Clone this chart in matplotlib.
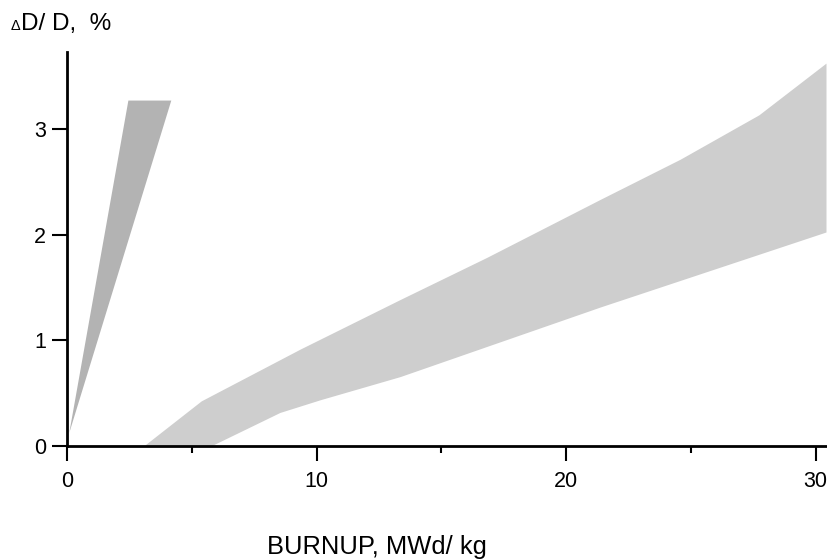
import matplotlib
matplotlib.use("Agg")
import matplotlib.pyplot as plt
from matplotlib.ticker import MultipleLocator

plt.rcParams['font.family'] = ['Liberation Sans', 'DejaVu Sans']

# Dark band (early data): apex and top edge
dark_x = [0.09, 2.46, 4.18]
dark_y = [0.12, 3.27, 3.27]

# Light band: upper boundary
upper_x = [3.13, 5.4, 9.36, 13.37, 16.85, 21.4, 24.6, 27.75, 30.44]
upper_y = [0.0, 0.42, 0.91, 1.38, 1.78, 2.33, 2.71, 3.13, 3.62]
# Light band: lower boundary
lower_x = [5.85, 8.55, 10.16, 13.37, 21.4, 30.44]
lower_y = [0.0, 0.31, 0.43, 0.65, 1.31, 2.02]

x_major = [0, 10, 20, 30]
y_major = [0, 1, 2, 3]

fig = plt.figure(figsize=(8.28, 5.6), dpi=100)
ax = fig.add_axes([67/828, 1-445.7/560, (828-67)/828, (445.7-52)/560])

ax.fill(dark_x, dark_y, color='#b3b3b3', lw=0)
poly_x = upper_x + lower_x[::-1]
poly_y = upper_y + lower_y[::-1]
ax.fill(poly_x, poly_y, color='#cecece', lw=0)

ax.set_xlim(0, 30.5)
ax.set_ylim(0, 3.73)
ax.set_xticks(x_major)
ax.set_yticks(y_major)
ax.xaxis.set_minor_locator(MultipleLocator(5))
for s in ['top', 'right']:
    ax.spines[s].set_visible(False)
for s in ['left', 'bottom']:
    ax.spines[s].set_linewidth(2)
ax.tick_params(axis='both', which='major', direction='out', length=11, width=1.5,
               labelsize=15.5)
ax.tick_params(axis='x', which='major', pad=7)
ax.tick_params(axis='y', which='major', pad=4)
ax.tick_params(axis='x', which='minor', direction='out', length=5, width=1.5)

fig.text(11/828, 1-30/560, '\u0394', fontsize=10.5, va='baseline', ha='left')
fig.text(21/828, 1-30/560, 'D/ D,  %', fontsize=17.5, va='baseline', ha='left')
fig.text(377/828, 1-554/560, 'BURNUP, MWd/ kg', fontsize=18.4, va='baseline', ha='center')

fig.savefig('out.png', dpi=100)
